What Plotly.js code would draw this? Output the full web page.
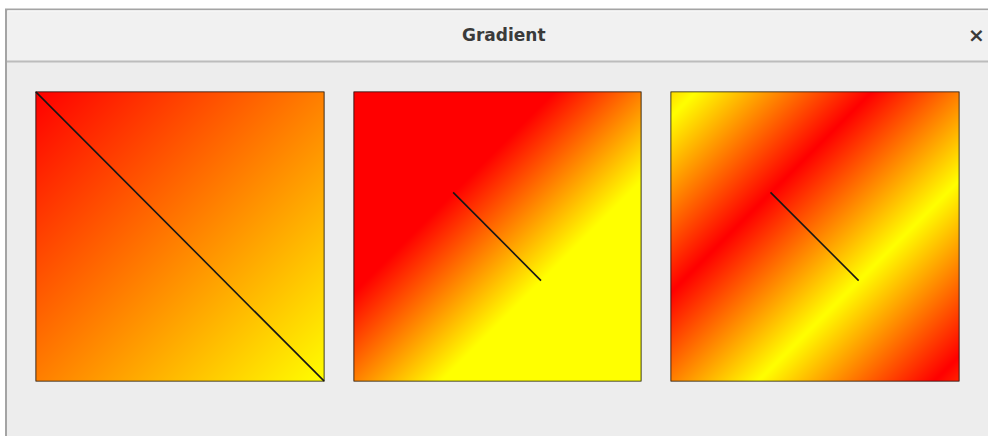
<!DOCTYPE html>
<html>
<head>
<meta charset="utf-8">
<script src="https://cdn.plot.ly/plotly-3.0.1.min.js"></script>
<style>html,body{margin:0;padding:0;background:#fff;}#chart{width:988px;height:436px;}</style>
</head>
<body>
<div id="chart"></div>
<script>
// Panel corner positions (unit square, y down) and gradient parameter t at corners
const cornerX = [0, 1];
const cornerY = [0, 1];
// t at [[top-left, top-right],[bottom-left, bottom-right]]
const panel1T = [[0, 0.5], [0.5, 1]];
const panel2T = [[-1.14, 0.5], [0.51, 2.15]];
const panel3T = [[-1.14, 0.5], [0.51, 2.15]];
// Marker lines (gradient vector) for each panel
const line1X = [0, 1], line1Y = [0, 1];
const line2X = [0.346, 0.651], line2Y = [0.348, 0.652];
const line3X = [0.346, 0.651], line3Y = [0.348, 0.652];
// Colour stops
const gradColors = ['#ff0000', '#ffff00'];
const cycleT = [-1.14, -1, 0, 1, 2, 2.15];
const cycleColors = ['rgb(255,219,0)', '#ffff00', '#ff0000', '#ffff00', '#ff0000', 'rgb(255,38,0)'];
const windowTitle = 'Gradient';

const W = 988, H = 436;
const px = v => v / W;
const py = v => 1 - v / H;

const linearScale = [[0, gradColors[0]], [1, gradColors[1]]];
const tMin = cycleT[0], tMax = cycleT[cycleT.length - 1];
const cycleScale = cycleT.map((t, i) => [(t - tMin) / (tMax - tMin), cycleColors[i]]);

function ax(n) { return n === 1 ? '' : String(n); }
function heat(z, scale, zmin, zmax, n) {
  return {type: 'heatmap', x: cornerX, y: cornerY, z: z, zsmooth: 'best',
    colorscale: scale, zmin: zmin, zmax: zmax, showscale: false, hoverinfo: 'skip',
    xaxis: 'x' + ax(n), yaxis: 'y' + ax(n)};
}
function seg(xs, ys, n) {
  return {type: 'scatter', mode: 'lines', x: xs, y: ys, line: {color: '#161616', width: 1.6},
    hoverinfo: 'skip', showlegend: false, cliponaxis: false,
    xaxis: 'x' + ax(n), yaxis: 'y' + ax(n)};
}

const data = [
  heat(panel1T, linearScale, 0, 1, 1),
  heat(panel2T, linearScale, 0, 1, 2),
  heat(panel3T, cycleScale, tMin, tMax, 3),
  seg(line1X, line1Y, 1), seg(line2X, line2Y, 2), seg(line3X, line3Y, 3)
];

function xa(l, r) {
  return {domain: [px(l), px(r)], range: [0, 1], showgrid: false, zeroline: false,
    showticklabels: false, ticks: '', showline: false, fixedrange: true};
}
function ya(t, b) {
  return {domain: [py(b), py(t)], range: [1, 0], showgrid: false, zeroline: false,
    showticklabels: false, ticks: '', showline: false, fixedrange: true};
}
function frame(n) {
  return {type: 'rect', xref: 'x' + ax(n), yref: 'y' + ax(n), x0: 0, x1: 1, y0: 0, y1: 1,
    line: {color: '#141414', width: 1.6}, fillcolor: 'rgba(0,0,0,0)', layer: 'above'};
}

const layout = {
  width: W, height: H, margin: {l: 0, r: 0, t: 0, b: 0},
  paper_bgcolor: '#ffffff', plot_bgcolor: 'rgba(0,0,0,0)', showlegend: false,
  xaxis: xa(35.5, 324.5), yaxis: ya(91.5, 381.5),
  xaxis2: Object.assign(xa(353.5, 641.5), {anchor: 'y2'}), yaxis2: Object.assign(ya(91.5, 381.5), {anchor: 'x2'}),
  xaxis3: Object.assign(xa(670.5, 959.5), {anchor: 'y3'}), yaxis3: Object.assign(ya(91.5, 381.5), {anchor: 'x3'}),
  shapes: [
    {type: 'rect', xref: 'paper', yref: 'paper', x0: px(6), x1: px(1000), y0: py(445), y1: py(9.5),
      fillcolor: '#ededed', line: {color: '#a4a4a4', width: 2}, layer: 'below'},
    {type: 'rect', xref: 'paper', yref: 'paper', x0: px(7), x1: px(1000), y0: py(61), y1: py(10.5),
      fillcolor: '#f1f1f1', line: {width: 0}, layer: 'below'},
    {type: 'line', xref: 'paper', yref: 'paper', x0: px(7), x1: px(1000), y0: py(61.5), y1: py(61.5),
      line: {color: '#bcbcbc', width: 2}, layer: 'below'},
    {type: 'line', xref: 'paper', yref: 'paper', x0: px(8), x1: px(1000), y0: py(11), y1: py(11),
      line: {color: '#fafafa', width: 1}, layer: 'below'},
    frame(1), frame(2), frame(3)
  ],
  annotations: [
    {xref: 'paper', yref: 'paper', x: px(504), y: py(35), text: '<b>' + windowTitle + '</b>', showarrow: false,
      font: {family: 'DejaVu Sans', size: 17, color: '#3a3a3a'}, xanchor: 'center', yanchor: 'middle'},
    {xref: 'paper', yref: 'paper', x: px(976), y: py(35), text: '<b>×</b>', showarrow: false,
      font: {family: 'DejaVu Sans', size: 20, color: '#3a3a3a'}, xanchor: 'center', yanchor: 'middle'}
  ]
};

Plotly.newPlot('chart', data, layout, {displayModeBar: false, staticPlot: true});
</script>
</body>
</html>
